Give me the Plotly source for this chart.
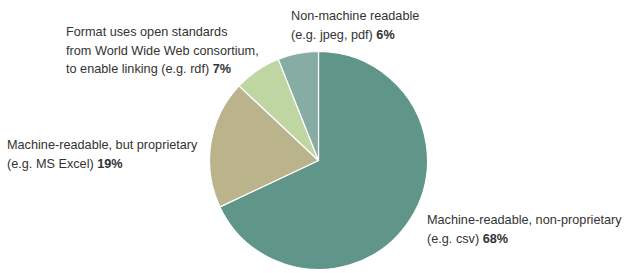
import plotly.graph_objects as go

labels = ["Machine-readable, non-proprietary", "Machine-readable, but proprietary",
          "Format uses open standards", "Non-machine readable"]
values = [68, 19, 7, 6]
colors = ["#5f9689", "#bab38b", "#bfd5a2", "#87aca3"]
label_lines = [
    ["Machine-readable, non-proprietary", "(e.g. csv) <b>68%</b>"],
    ["Machine-readable, but proprietary", "(e.g. MS Excel) <b>19%</b>"],
    ["Format uses open standards", "from World Wide Web consortium,", "to enable linking (e.g. rdf) <b>7%</b>"],
    ["Non-machine readable", "(e.g. jpeg, pdf) <b>6%</b>"],
]

W, H = 628, 273
cx, cy, r = 318.5, 160.5, 109

fig = go.Figure(go.Pie(
    labels=labels, values=values, sort=False, direction="clockwise", rotation=0,
    marker=dict(colors=colors, line=dict(color="white", width=1.2)),
    textinfo="none", hoverinfo="label+percent", showlegend=False,
    domain=dict(x=[(cx - r) / W, (cx + r) / W], y=[(H - cy - r) / H, (H - cy + r) / H]),
))

font = dict(family="Liberation Sans, Arial, sans-serif", size=12.7, color="#333333")
# (x of left edge, y of first line centre) in pixels
anchors = [(425, 220), (5, 145), (64, 32), (289, 16)]
step = 18.5
for (x, y0), lines in zip(anchors, label_lines):
    for i, t in enumerate(lines):
        fig.add_annotation(x=x / W, y=1 - (y0 + i * step) / H, xref="paper", yref="paper", text=t,
                           showarrow=False, xanchor="left", yanchor="middle", align="left", font=font)

fig.update_layout(width=W, height=H, margin=dict(l=0, r=0, t=0, b=0),
                  paper_bgcolor="white", plot_bgcolor="white")
fig.write_html("out.html")
